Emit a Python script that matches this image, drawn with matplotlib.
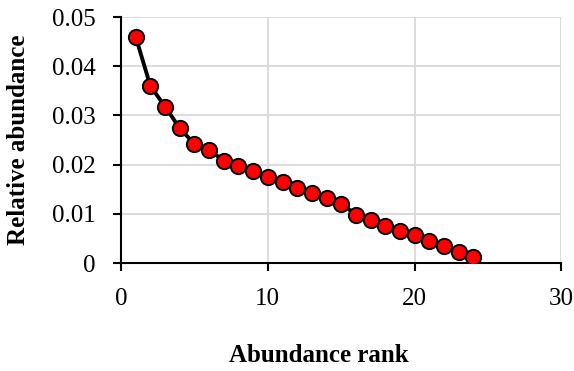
import matplotlib
matplotlib.use("Agg")
import matplotlib.pyplot as plt

rank = list(range(1, 25))
rel_abundance = [0.0460, 0.0360, 0.0318, 0.0274, 0.0242, 0.0230, 0.0208, 0.0197,
                 0.0187, 0.0175, 0.0165, 0.0153, 0.0142, 0.0132, 0.0121, 0.0098,
                 0.0087, 0.0076, 0.0066, 0.0056, 0.0045, 0.0034, 0.0023, 0.0012]
x_ticks = [0, 10, 20, 30]
y_ticks = [0, 0.01, 0.02, 0.03, 0.04, 0.05]
y_tick_labels = ["0", "0.01", "0.02", "0.03", "0.04", "0.05"]

plt.rcParams['font.family'] = ['Liberation Serif', 'DejaVu Serif']

fig = plt.figure(figsize=(5.74, 3.71), dpi=100)
ax = fig.add_axes([0.2108, 0.291, 0.7674, 0.663])

ax.plot(rank, rel_abundance, color='black', linewidth=2.8, marker='o',
        markersize=11, markerfacecolor='#ff0000', markeredgecolor='black',
        markeredgewidth=1.4, zorder=3)

ax.set_xlim(0, 30)
ax.set_ylim(0, 0.05)
ax.set_xticks(x_ticks)
ax.set_yticks(y_ticks)
ax.set_yticklabels(y_tick_labels)
ax.grid(True, color='#d9d9d9', linewidth=1.3)
ax.set_axisbelow(True)
for s in ['top', 'right']:
    ax.spines[s].set_visible(False)
for s in ['left', 'bottom']:
    ax.spines[s].set_linewidth(1.5)
    ax.spines[s].set_clip_on(False)
ax.tick_params(axis='both', length=6, width=1.5, labelsize=18)
ax.tick_params(axis='x', pad=12)
ax.tick_params(axis='y', pad=12)

ax.set_xlabel('Abundance rank', fontsize=18, fontweight='bold', labelpad=28)
ax.xaxis.set_label_coords(0.45, -0.33)
ax.set_ylabel('Relative abundance', fontsize=18, fontweight='bold', labelpad=16)

fig.savefig('out.png', dpi=100)
